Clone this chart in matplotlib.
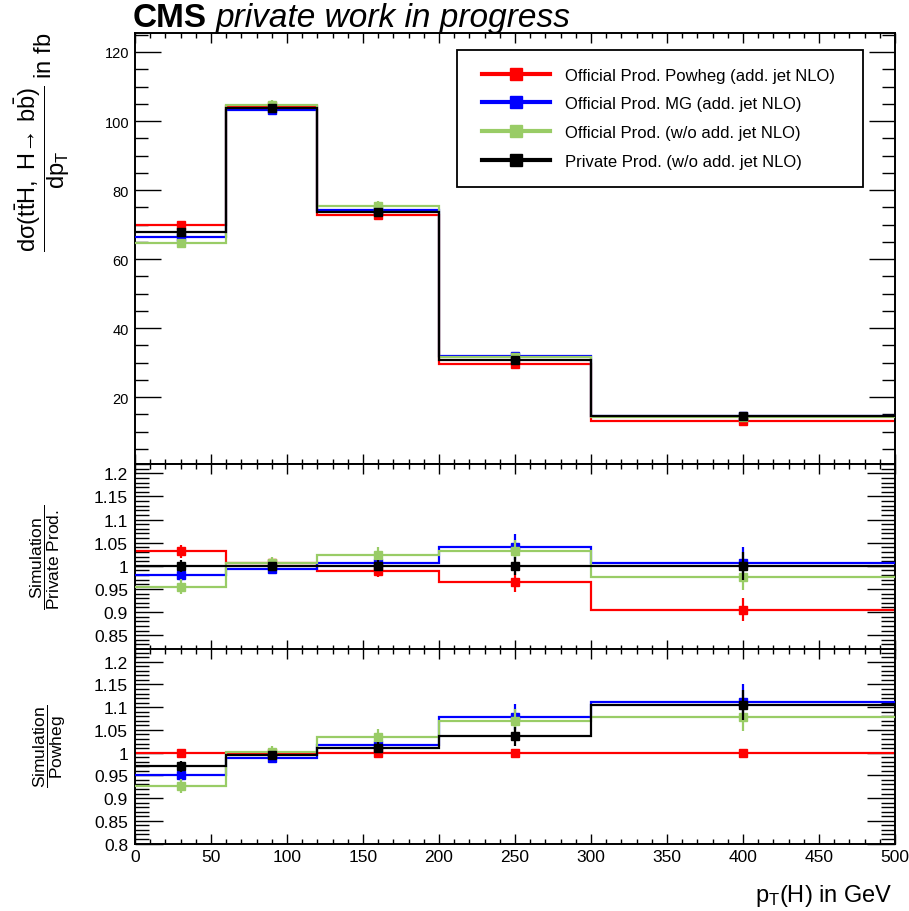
import numpy as np
import matplotlib
matplotlib.use("Agg")
import matplotlib.pyplot as plt
from matplotlib.lines import Line2D
from matplotlib.patches import Rectangle
from matplotlib.ticker import MultipleLocator, FuncFormatter

plt.rcParams['font.family'] = ['Liberation Sans', 'DejaVu Sans']
plt.rcParams['mathtext.fontset'] = 'custom'
plt.rcParams['mathtext.rm'] = 'Liberation Sans'
plt.rcParams['mathtext.it'] = 'Liberation Sans:italic'
plt.rcParams['mathtext.bf'] = 'Liberation Sans:bold'

# BINNING
# =======
bin_edges = [0, 60, 120, 200, 300, 500]     # p_T(H) bins [GeV]
bin_centers = [30, 90, 160, 250, 400]

# PRIVATE PRODUCTION, CROSS SECTION PER BIN [fb]
# ==============================================
xs_private = [67.7, 103.9, 73.7, 30.7, 14.5]

# RATIOS TO PRIVATE PRODUCTION
# ============================
ratio_powheg = [1.031, 1.005, 0.989, 0.965, 0.905]
ratio_mg = [0.981, 0.994, 1.006, 1.041, 1.006]
ratio_nojet = [0.955, 1.006, 1.024, 1.033, 0.976]
ratio_private = [1.0, 1.0, 1.0, 1.0, 1.0]

# RELATIVE STAT. UNCERTAINTIES
# ============================
relerr_powheg = [0.013, 0.008, 0.013, 0.023, 0.028]
relerr_mg = [0.014, 0.011, 0.013, 0.027, 0.035]
relerr_nojet = [0.017, 0.014, 0.017, 0.023, 0.028]
relerr_private = [0.013, 0.008, 0.012, 0.020, 0.030]

labels = ["Official Prod. Powheg (add. jet NLO)",
          "Official Prod. MG (add. jet NLO)",
          "Official Prod. (w/o add. jet NLO)",
          "Private Prod. (w/o add. jet NLO)"]
colors = ["#ff0000", "#0000ff", "#99cc66", "#000000"]
ratios = [ratio_powheg, ratio_mg, ratio_nojet, ratio_private]
relerrs = [relerr_powheg, relerr_mg, relerr_nojet, relerr_private]

fig = plt.figure(figsize=(9.09, 9.12), dpi=100)
ax_main = fig.add_axes([0.1485, 0.4901, 0.8361, 0.4726])
ax_r1 = fig.add_axes([0.1485, 0.2867, 0.8361, 0.2034])
ax_r2 = fig.add_axes([0.1485, 0.0740, 0.8361, 0.2133])


def draw(ax, vals, errs, color, z):
    ax.stairs(vals, bin_edges, baseline=None, color=color, lw=1.6, zorder=z)
    ax.errorbar(bin_centers, vals, yerr=errs, fmt='s', color=color, ms=6,
                elinewidth=1.6, capsize=0, zorder=z + 0.5)


xs_private = np.array(xs_private)
r_pow = np.array(ratio_powheg)

# main panel
for i in range(4):
    vals = xs_private * np.array(ratios[i])
    draw(ax_main, vals, vals * np.array(relerrs[i]), colors[i], 2 + i)

# ratio to private production
for i in [3, 0, 2, 1]:
    vals = np.array(ratios[i])
    draw(ax_r1, vals, vals * np.array(relerrs[i]), colors[i], 2 + i)

# ratio to powheg
for i in [0, 3, 2, 1]:
    vals = np.array(ratios[i]) / r_pow
    errs = vals * np.array(relerrs[i]) if i != 0 else None
    draw(ax_r2, vals, errs, colors[i], 2 + i)

ax_main.set_ylim(0.6, 125.5)
ax_r1.set_ylim(0.819, 1.22)
ax_r2.set_ylim(0.8, 1.228)

fmt = FuncFormatter(lambda v, p: f"{v:g}")
for ax in [ax_main, ax_r1, ax_r2]:
    ax.set_xlim(0, 500)
    ax.xaxis.set_major_locator(MultipleLocator(50))
    ax.xaxis.set_minor_locator(MultipleLocator(10))
    ax.tick_params(which='both', direction='in', top=True, right=True, width=1)
    ax.tick_params(axis='x', which='major', length=7.2, labelsize=12.5, pad=4)
    ax.tick_params(axis='x', which='minor', length=3.6)
    for s in ax.spines.values():
        s.set_linewidth(1.4)
    if ax is not ax_r2:
        ax.tick_params(axis='x', labelbottom=False)

ax_main.yaxis.set_major_locator(MultipleLocator(20))
ax_main.yaxis.set_minor_locator(MultipleLocator(5))
ax_main.tick_params(axis='y', which='major', length=18.7, labelsize=10.5, pad=4.3)
ax_main.tick_params(axis='y', which='minor', length=9.4)

for ax in [ax_r1, ax_r2]:
    ax.yaxis.set_major_locator(MultipleLocator(0.05))
    ax.yaxis.set_minor_locator(MultipleLocator(0.01))
    ax.yaxis.set_major_formatter(fmt)
    ax.tick_params(axis='y', which='major', length=20, labelsize=12.5, pad=5)
    ax.tick_params(axis='y', which='minor', length=10)

ax_r2.xaxis.set_major_formatter(fmt)

# legend
handles = [Line2D([], [], color=c, lw=3, marker='s', ms=8.6) for c in colors]
ax_main.legend(handles, labels, loc='center left', bbox_to_anchor=(0.4566, 0.8028),
               frameon=False, fontsize=12, handlelength=4.07, handletextpad=0.9,
               labelspacing=0.82, borderpad=0, borderaxespad=0)
ax_main.add_patch(Rectangle((0.4237, 0.6427), 0.5343, 0.3179, transform=ax_main.transAxes,
                            fill=False, lw=1.3, ec='black', zorder=10))

# titles and axis labels
fig.text(0.1463, 0.9704, "CMS", fontsize=24, fontweight='bold', ha='left', va='baseline')
fig.text(0.2376, 0.9704, "private work in progress", fontsize=24, style='italic',
         ha='left', va='baseline')
fig.text(0.9824, 0.011, r"$\mathrm{p_{T}}$(H) in GeV", fontsize=17, ha='right', va='baseline')
fig.text(0.0795, 0.9638,
         r"$\dfrac{\mathrm{d\sigma(t\bar{t}H,\ H→\ b\bar{b})}}{\mathrm{dp_{T}}}$ in fb",
         fontsize=17, rotation=90, ha='right', va='top')
fig.text(0.0495, 0.389, r"$\dfrac{\mathrm{Simulation}}{\mathrm{Private\ Prod.}}$",
         fontsize=12.5, rotation=90, ha='center', va='center')
fig.text(0.055, 0.182, r"$\dfrac{\mathrm{Simulation}}{\mathrm{Powheg}}$",
         fontsize=12.5, rotation=90, ha='center', va='center')

fig.savefig("out.png", dpi=100, facecolor='white')
